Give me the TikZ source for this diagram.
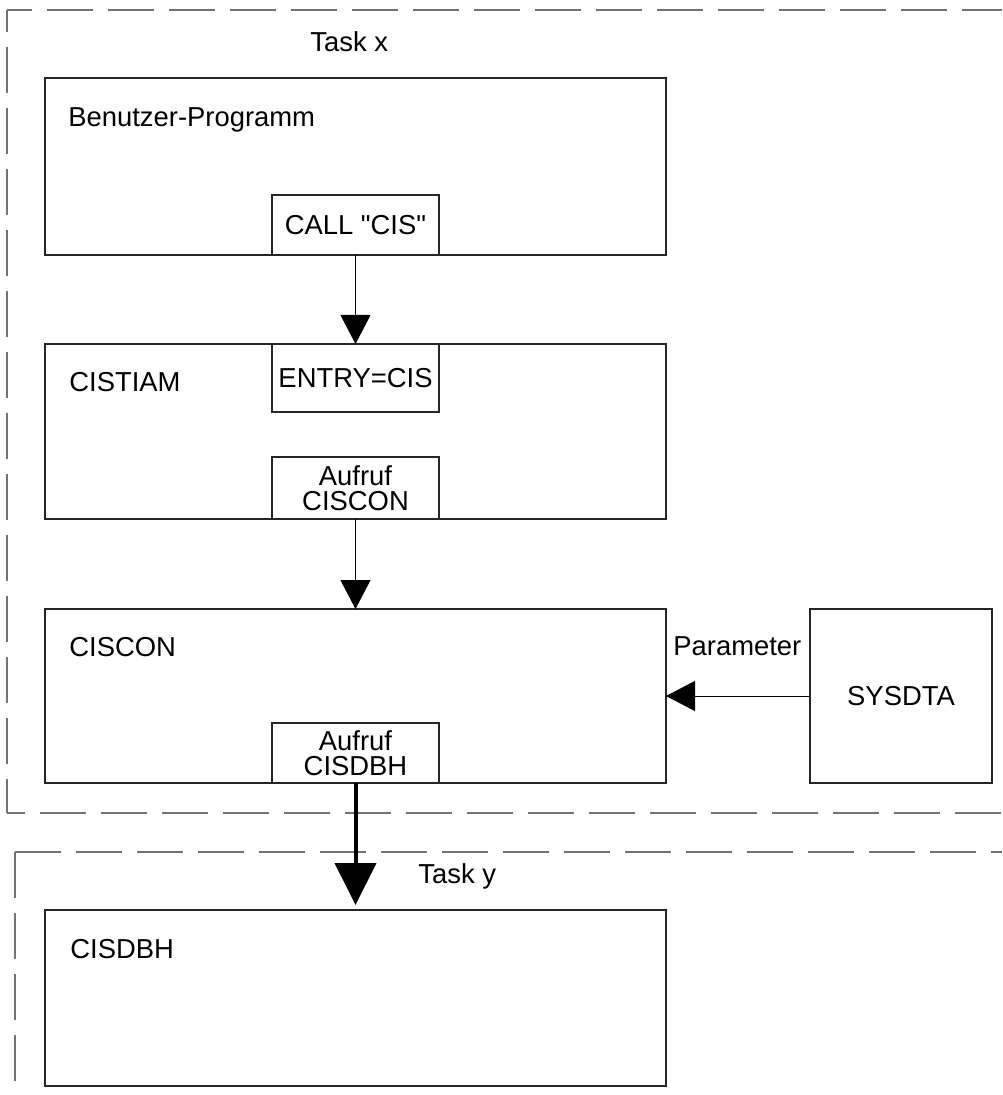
\documentclass[tikz,border=0pt]{standalone}
\usepackage{fontspec}
\setmainfont{Liberation Sans}
\usetikzlibrary{arrows.meta}
\newcommand{\lbl}{\fontsize{13.7}{12.5}\selectfont}
\tikzset{
  boxline/.style={draw=black!85, line width=0.6pt, inner sep=0pt, outer sep=0pt},
  module/.style={boxline, minimum width=310.5pt},
  callbox/.style={boxline, minimum width=83.5pt, align=center, font=\lbl},
  caption/.style={anchor=base west, inner sep=0pt, font=\lbl},
  taskframe/.style={draw=black!55, line width=0.65pt, dash pattern=on 23pt off 7.5pt},
  flow/.style={draw=black, line width=0.5pt, -{Triangle[length=14.5pt,width=15pt]}},
  remote/.style={draw=black, line width=2pt, -{Triangle[length=21pt,width=20.5pt]}}
}
\begin{document}
\begin{tikzpicture}[x=0.5pt, y=-0.5pt]
\useasboundingbox (0,0) rectangle (1002,1095);

% task frames (open to the right)
\draw[taskframe, dash phase=10.5pt] (7,10) -- (1002,10);
\draw[taskframe, dash phase=12pt] (7,10) -- (7,813);
\draw[taskframe, dash phase=14pt] (7,813) -- (1002,813);
\draw[taskframe] (15,852) -- (1002,852);
\draw[taskframe] (15,852) -- (15,1095);
\node[caption] (taskx) at (310,52) {Task x};
\node[caption] (tasky) at (418,883) {Task y};

% modules
\node[module, minimum height=88.5pt] (prog) at (355.5,166.5) {};
\node[module, minimum height=87.5pt] (tiam) at (355.5,431.5) {};
\node[module, minimum height=87pt]   (con)  at (355.5,696) {};
\node[module, minimum height=88pt]   (dbh)  at (355.5,998) {};
\node[boxline, minimum width=91pt, minimum height=87pt, font=\lbl] (sysdta) at (901,696) {SYSDTA};

\node[caption] (progt) at (68,127) {Benutzer-Programm};
\node[caption] (tiamt) at (69,392) {CISTIAM};
\node[caption] (cont)  at (69,656) {CISCON};
\node[caption] (dbht)  at (70,958) {CISDBH};
\node[caption] (param) at (673,655) {Parameter};

% call points and entries
\node[callbox, minimum height=30pt] (call)  at (355.5,225) {CALL \textquotedbl CIS\textquotedbl};
\node[callbox, minimum height=34pt] (entry) at (355.5,378) {ENTRY=CIS};
\node[callbox, minimum height=31pt] (acon)  at (355.5,488) {Aufruf\\CISCON};
\node[callbox, minimum height=30pt] (adbh)  at (355.5,753) {Aufruf\\CISDBH};

% connectors
\draw[flow] (call.south) -- (entry.north);
\draw[flow] (acon.south) -- (con.north);
\draw[flow] (sysdta.west) -- (con.east);
\draw[remote, shorten >=2.5pt] (adbh.south) -- (dbh.north);
\end{tikzpicture}
\end{document}
